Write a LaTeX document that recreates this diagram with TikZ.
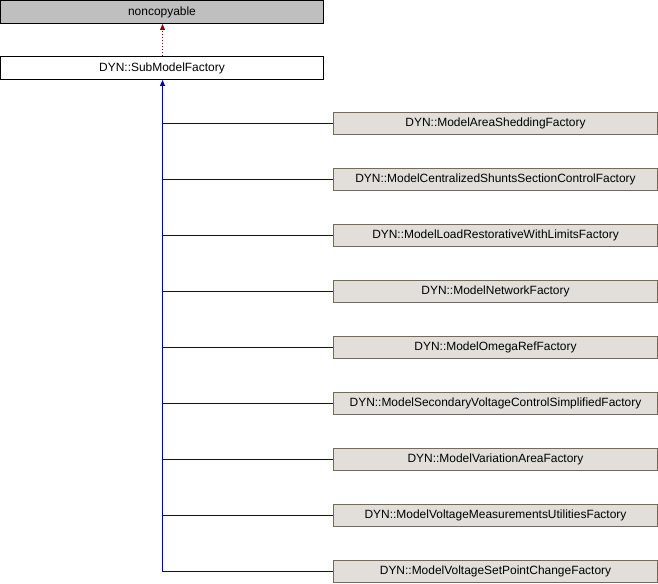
\documentclass[tikz,border=0pt]{standalone}
\usepackage{fontspec}
\setmainfont{Liberation Sans}
\usetikzlibrary{arrows.meta}
\definecolor{inhblue}{HTML}{0000B0}
\definecolor{usered}{HTML}{8B0000}
\definecolor{basegray}{HTML}{BFBFBF}
\definecolor{clsfill}{HTML}{E2DFDB}
\definecolor{clsdraw}{HTML}{75695C}

\begin{document}
\begin{tikzpicture}[x=1bp,y=-1bp,line width=1bp,node font=\fontsize{12}{14}\selectfont]
	\tikzset{
		cls/.style={draw,minimum width=324bp,minimum height=22bp,inner sep=0pt},
		basecls/.style={cls,minimum width=323bp,minimum height=23bp,fill=basegray,draw=black},
		topcls/.style={cls,minimum width=323bp,minimum height=23bp,fill=white,draw=black},
		subcls/.style={cls,fill=clsfill,draw=clsdraw},
		inh/.style={draw=inhblue},
		tip/.style={-{Triangle[length=6bp,width=5bp]}}
	}
	\useasboundingbox (0,0) rectangle (658,584);
	
	\node[basecls] (noncopy) at (162,12) {noncopyable};
	\node[topcls] (subfac) at (162,68) {DYN::SubModelFactory};
	
	\node[subcls] (areashed) at (495.5,123.5) {DYN::ModelAreaSheddingFactory};
	\node[subcls] (shunts) at (495.5,179.5) {DYN::ModelCentralizedShuntsSectionControlFactory};
	\node[subcls] (loadrest) at (495.5,235.5) {DYN::ModelLoadRestorativeWithLimitsFactory};
	\node[subcls] (network) at (495.5,291.5) {DYN::ModelNetworkFactory};
	\node[subcls] (omegaref) at (495.5,347.5) {DYN::ModelOmegaRefFactory};
	\node[subcls] (secvolt) at (495.5,403.5) {DYN::ModelSecondaryVoltageControlSimplifiedFactory};
	\node[subcls] (vararea) at (495.5,459.5) {DYN::ModelVariationAreaFactory};
	\node[subcls] (voltmeas) at (495.5,515.5) {DYN::ModelVoltageMeasurementsUtilitiesFactory};
	\node[subcls] (setpoint) at (495.5,571.5) {DYN::ModelVoltageSetPointChangeFactory};
	
	% use of noncopyable
	\coordinate (mid) at (162.5,0);
	\draw[usered,dotted,tip] (mid |- subfac.north) -- (mid |- noncopy.south);
	
	% inheritance tree
	\coordinate (trunk) at (mid |- setpoint.west);
	\draw[inh,tip] (trunk) -- (mid |- subfac.south);
	\draw[inh] (areashed.west) -- (areashed.west -| trunk)
		(shunts.west) -- (shunts.west -| trunk)
		(loadrest.west) -- (loadrest.west -| trunk)
		(network.west) -- (network.west -| trunk)
		(omegaref.west) -- (omegaref.west -| trunk)
		(secvolt.west) -- (secvolt.west -| trunk)
		(vararea.west) -- (vararea.west -| trunk)
		(voltmeas.west) -- (voltmeas.west -| trunk)
		(setpoint.west) -- (trunk);
\end{tikzpicture}
\end{document}
